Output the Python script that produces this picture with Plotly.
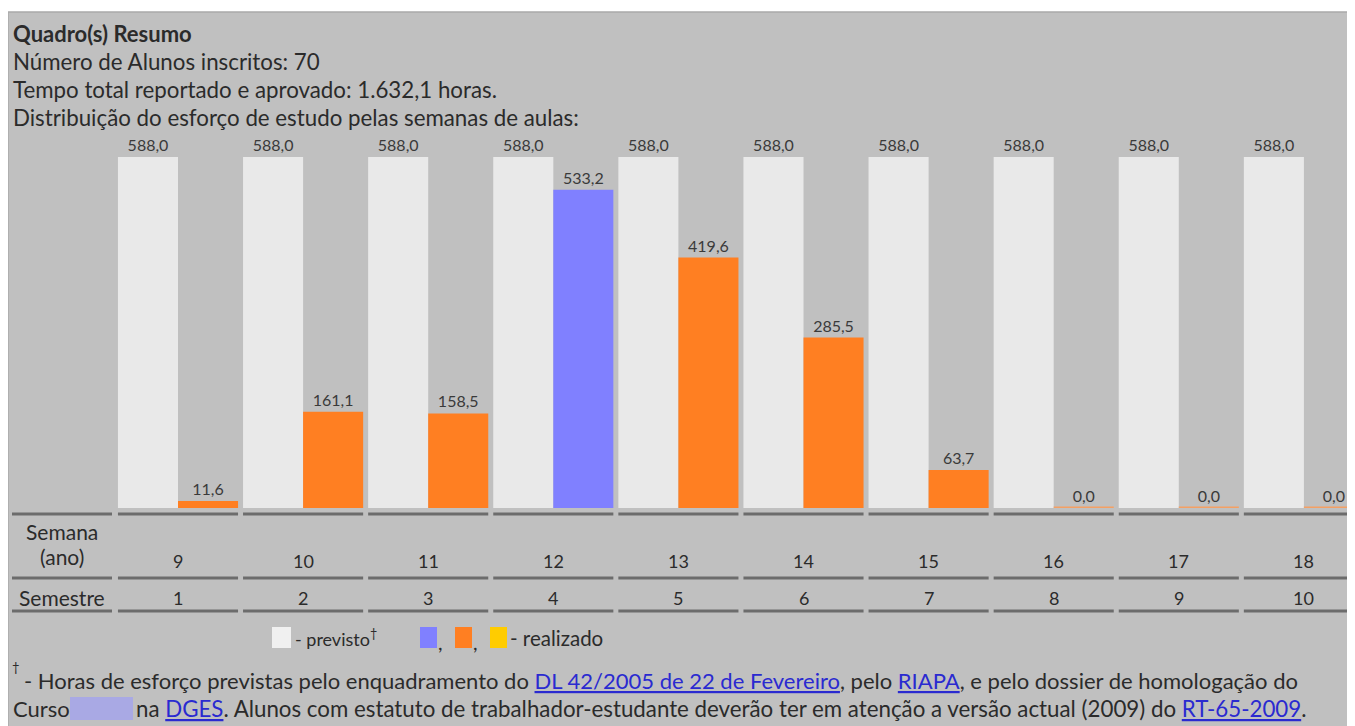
import plotly.graph_objects as go

# ---------------- data ----------------
semanas = [9, 10, 11, 12, 13, 14, 15, 16, 17, 18]
semestre = [1, 2, 3, 4, 5, 6, 7, 8, 9, 10]
previsto = [588.0, 588.0, 588.0, 588.0, 588.0, 588.0, 588.0, 588.0, 588.0, 588.0]
realizado = [11.6, 161.1, 158.5, 533.2, 419.6, 285.5, 63.7, 0.0, 0.0, 0.0]
realizado_cores = ["#ff7f22", "#ff7f22", "#ff7f22", "#8080ff", "#ff7f22",
                   "#ff7f22", "#ff7f22", "#ff7f22", "#ff7f22", "#ff7f22"]

titulo = "Quadro(s) Resumo"
linhas_cabecalho = [
    "Número de Alunos inscritos: 70",
    "Tempo total reportado e aprovado: 1.632,1 horas.",
    "Distribuição do esforço de estudo pelas semanas de aulas:",
]

# ---------------- layout helpers ----------------
# the page body has an 8px margin, so the figure is offset by (8, 8)
OX, OY = 8, 8
W, H = 1347, 718
FONT = "Lato"
TXT = "#2b2b2b"
BG = "#c0c0c0"
LINK = "#2a2ad0"


def px(x):
    return (x - OX) / W


def py(y):
    return 1 - (y - OY) / H


x_left = 115.45
period = 125.1
baseline = 508
unit = 351 / 588.0
ymax = 640

# zero-valued bars get a thin outline so they remain visible as a line
line_w = [3 if v == 0 else 0 for v in realizado]
line_c = ["#f4a064" if v == 0 else c for v, c in zip(realizado, realizado_cores)]

fig = go.Figure()
fig.add_trace(go.Bar(
    x=semanas, y=previsto, name="previsto",
    marker=dict(color="#e9e9e9", line=dict(width=0)),
    texttemplate="%{y:.1f}", textposition="outside",
    textfont=dict(family=FONT, size=16, color="#3a3a3a"),
    cliponaxis=False, hoverinfo="skip",
))
fig.add_trace(go.Bar(
    x=semanas, y=realizado, name="realizado",
    marker=dict(color=realizado_cores, line=dict(width=line_w, color=line_c)),
    texttemplate="%{y:.1f}", textposition="outside",
    textfont=dict(family=FONT, size=16, color="#3a3a3a"),
    cliponaxis=False, hoverinfo="skip",
))

shapes = []
# background panel
shapes.append(dict(type="rect", xref="paper", yref="paper",
                   x0=0, x1=1.01, y0=-0.01, y1=py(12),
                   fillcolor=BG, line=dict(color="#a9a9a9", width=1.5), layer="below"))

# table rules
for yy in [514, 578, 611]:
    shapes.append(dict(type="line", xref="paper", yref="paper",
                       x0=px(12), x1=px(112), y0=py(yy), y1=py(yy),
                       line=dict(color="#6c6c6c", width=3)))
    for w in semanas:
        shapes.append(dict(type="line", xref="x", yref="paper",
                           x0=w - 0.48, x1=w + 0.48, y0=py(yy), y1=py(yy),
                           line=dict(color="#6c6c6c", width=3)))

# legend squares
for (x0, x1, col) in [(272, 291, "#f0f0f0"), (420, 437, "#8080ff"),
                      (455, 472, "#ff7f22"), (490, 507, "#ffcc00")]:
    shapes.append(dict(type="rect", xref="paper", yref="paper",
                       x0=px(x0), x1=px(x1), y0=py(648), y1=py(627),
                       fillcolor=col, line=dict(width=0)))

# blurred course name
shapes.append(dict(type="rect", xref="paper", yref="paper",
                   x0=px(70), x1=px(133), y0=py(720), y1=py(697),
                   fillcolor="#a9a9e4", line=dict(width=0)))

ann = []


def text(x, y, s, size=21, anchor="left", color=TXT, xref="paper"):
    ann.append(dict(x=x, y=y, xref=xref, yref="paper", text=s, showarrow=False,
                    xanchor=anchor, yanchor="middle",
                    font=dict(family=FONT, size=size, color=color)))


# header
text(px(11), py(33), "<b>" + titulo + "</b>", size=22)
for i, s in enumerate(linhas_cabecalho):
    text(px(11), py(62 + 27.7 * i), s, size=22.3)

# table rows
text(px(62), py(531), "Semana", size=21, anchor="center")
text(px(62), py(556), "(ano)", size=21, anchor="center")
text(px(62), py(597), "Semestre", size=21, anchor="center")
for w, s in zip(semanas, semestre):
    text(w, py(561), str(w), size=18, anchor="center", xref="x")
    text(w, py(598), str(s), size=18, anchor="center", xref="x")

# legend
text(px(293), py(638), "- previsto<sup>†</sup>", size=18)
text(px(436), py(642), ",", size=20)
text(px(471), py(642), ",", size=20)
text(px(508), py(638), "- realizado", size=20.5)


def link(s):
    return "<span style='color:%s;text-decoration:underline'>%s</span>" % (LINK, s)


# footnote
text(px(10), py(667), "†", size=13)
text(px(22), py(680),
     "- Horas de esforço previstas pelo enquadramento do " + link("DL 42/2005 de 22 de Fevereiro")
     + ", pelo " + link("RIAPA") + ", e pelo dossier de homologação do", size=22)
text(px(11), py(708), "Curso", size=22)
text(px(134), py(708),
     "na " + link("DGES") + ". Alunos com estatuto de trabalhador-estudante deverão ter em atenção a versão actual (2009) do "
     + link("RT-65-2009") + ".", size=22.3)

fig.update_layout(
    width=W, height=H,
    margin=dict(l=0, r=0, t=0, b=0),
    paper_bgcolor="white", plot_bgcolor="rgba(0,0,0,0)",
    barmode="group", bargap=0.04, bargroupgap=0,
    separators=",.",
    showlegend=False,
    font=dict(family=FONT, color=TXT),
    xaxis=dict(domain=[px(x_left), 1], range=[8.5, 8.5 + (OX + W - x_left) / period],
               showgrid=False, zeroline=False, showticklabels=False, showline=False,
               fixedrange=True),
    yaxis=dict(domain=[py(baseline), py(baseline - ymax * unit)], range=[0, ymax],
               showgrid=False, zeroline=False, showticklabels=False, showline=False,
               fixedrange=True),
    shapes=shapes, annotations=ann,
)

fig.write_html("out.html")
